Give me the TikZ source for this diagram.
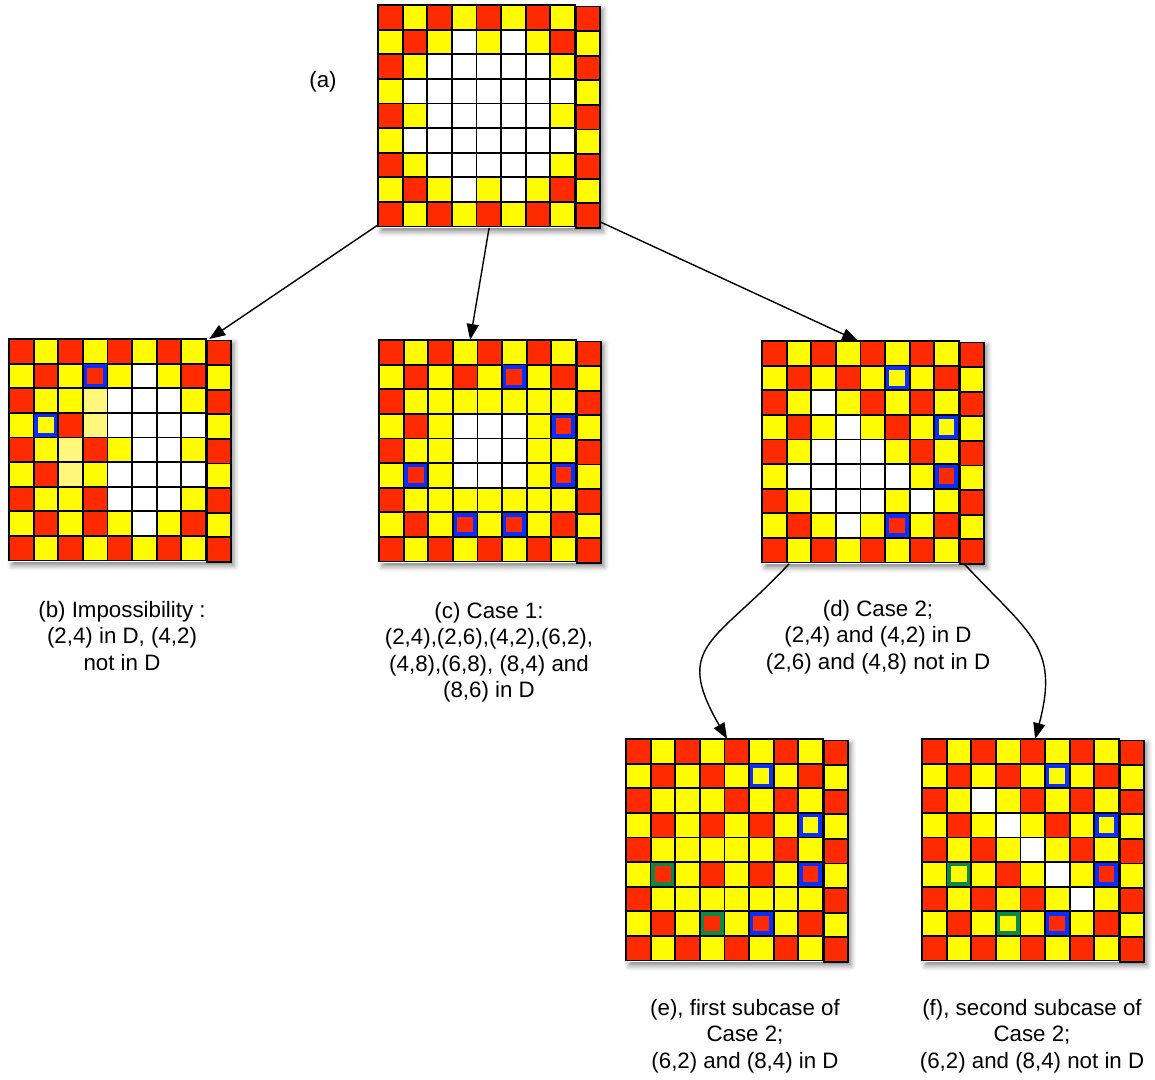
\documentclass[tikz,border=0pt]{standalone}
\usepackage{fontspec}
\setmainfont{Liberation Sans}
\usepackage{tikz}
\usetikzlibrary{arrows.meta}
\usetikzlibrary{shadows.blur}
\usetikzlibrary{calc}
\definecolor{cellR}{HTML}{FF2A00}
\definecolor{cellY}{HTML}{FFFB00}
\definecolor{cellW}{HTML}{FFFFFF}
\definecolor{cellL}{HTML}{FFF87C}
\definecolor{hlblue}{HTML}{0A2EFF}
\definecolor{hlgreen}{HTML}{0B8A45}
\newcommand*{\sz}{24.6}
\tikzstyle{boardbg}=[rectangle,anchor=north west,inner sep=0pt,outer sep=0pt,minimum width=222.2pt,minimum height=222.9pt,fill=white,blur shadow={shadow xshift=3pt,shadow yshift=-4pt,shadow blur radius=5pt,shadow opacity=45}]
\tikzstyle{cell}=[draw=black,line width=1.8pt]
\tikzstyle{arr}=[-{Triangle[length=16pt,width=12pt]},draw=black,line width=1.4pt]
\tikzset{caption/.style={align=center,font=\fontsize{22.3}{26.5}\selectfont,inner sep=0pt}}
\newcommand*{\board}[4]{
    \begin{scope}[shift={(#2,-#3)}]
    \node [boardbg] (#1) at (0,0) {};
    \foreach \row [count=\j] in {#4} {
      \foreach \c [count=\i] in \row {
        \pgfmathsetmacro{\dx}{(\i==9)*0.8}
        \pgfmathsetmacro{\dy}{(\i==9)*1.5}
        \draw [cell, fill=cell\c] ({(\i-1)*\sz+\dx},{-(\j-1)*\sz-\dy}) rectangle ++(\sz,-\sz);
      }
    }
    \end{scope}
}
\newcommand*{\hilite}[4]{
    \draw [#4, line width=3.6pt] ($(#1.north west)+({(#2-1)*\sz+2.6},{-(#3-1)*\sz-2.6})$) rectangle ++({\sz-5.2},{-\sz+5.2});
}

\begin{document}
\begin{tikzpicture}[x=1pt,y=1pt]
    \useasboundingbox (0,0) rectangle (1155,-1079);

    % starting position
    \board{A}{378}{5}{{R,Y,R,Y,R,Y,R,Y,R},{Y,R,Y,W,Y,W,Y,R,Y},{R,Y,W,W,W,W,W,Y,R},{Y,W,W,W,W,W,W,W,Y},{R,Y,W,W,W,W,W,Y,R},{Y,W,W,W,W,W,W,W,Y},{R,Y,W,W,W,W,W,Y,R},{Y,R,Y,W,Y,W,Y,R,Y},{R,Y,R,Y,R,Y,R,Y,R}}

    % impossibility
    \board{B}{9}{339}{{R,Y,R,Y,R,Y,R,Y,R},{Y,R,Y,R,Y,W,Y,R,Y},{R,Y,Y,L,W,W,W,Y,R},{Y,Y,R,L,W,W,W,W,Y},{R,Y,L,R,Y,W,W,Y,R},{Y,R,L,Y,W,W,W,W,Y},{R,Y,Y,R,W,W,W,Y,R},{Y,R,Y,R,Y,W,Y,R,Y},{R,Y,R,Y,R,Y,R,Y,R}}
    \hilite{B}{4}{2}{hlblue}
    \hilite{B}{2}{4}{hlblue}

    % case 1
    \board{C}{379}{340}{{R,Y,R,Y,R,Y,R,Y,R},{Y,R,Y,R,Y,R,Y,R,Y},{R,Y,Y,Y,Y,Y,Y,Y,R},{Y,R,Y,W,W,W,Y,R,Y},{R,Y,Y,W,W,W,Y,Y,R},{Y,R,Y,W,W,W,Y,R,Y},{R,Y,Y,Y,Y,Y,Y,Y,R},{Y,R,Y,R,Y,R,Y,R,Y},{R,Y,R,Y,R,Y,R,Y,R}}
    \foreach \p/\q in {6/2,8/4,2/6,8/6,4/8,6/8} {\hilite{C}{\p}{\q}{hlblue}}

    % case 2
    \board{D}{762}{341}{{R,Y,R,Y,R,Y,R,Y,R},{Y,R,Y,R,Y,Y,Y,R,Y},{R,Y,W,Y,R,Y,R,Y,R},{Y,R,Y,W,Y,R,Y,Y,Y},{R,Y,W,W,W,Y,R,Y,R},{Y,W,W,W,W,W,Y,R,Y},{R,Y,W,W,W,Y,W,Y,R},{Y,R,Y,W,Y,R,Y,R,Y},{R,Y,R,Y,R,Y,R,Y,R}}
    \foreach \p/\q in {6/2,8/4,8/6,6/8} {\hilite{D}{\p}{\q}{hlblue}}

    % subcases
    \board{E}{626}{739}{{R,Y,R,Y,R,Y,R,Y,R},{Y,R,Y,R,Y,Y,Y,R,Y},{R,Y,Y,Y,R,Y,R,Y,R},{Y,R,Y,R,Y,R,Y,Y,Y},{R,Y,Y,Y,Y,Y,R,Y,R},{Y,R,Y,R,Y,R,Y,R,Y},{R,Y,Y,Y,Y,Y,Y,Y,R},{Y,R,Y,R,Y,R,Y,R,Y},{R,Y,R,Y,R,Y,R,Y,R}}
    \foreach \p/\q in {6/2,8/4,8/6,6/8} {\hilite{E}{\p}{\q}{hlblue}}
    \foreach \p/\q in {2/6,4/8} {\hilite{E}{\p}{\q}{hlgreen}}

    \board{F}{922}{739}{{R,Y,R,Y,R,Y,R,Y,R},{Y,R,Y,R,Y,Y,Y,R,Y},{R,Y,W,Y,R,Y,R,Y,R},{Y,R,Y,W,Y,R,Y,Y,Y},{R,Y,R,Y,W,Y,R,Y,R},{Y,Y,Y,R,Y,W,Y,R,Y},{R,Y,R,Y,R,Y,W,Y,R},{Y,R,Y,Y,Y,R,Y,R,Y},{R,Y,R,Y,R,Y,R,Y,R}}
    \foreach \p/\q in {6/2,8/4,8/6,6/8} {\hilite{F}{\p}{\q}{hlblue}}
    \foreach \p/\q in {2/6,4/8} {\hilite{F}{\p}{\q}{hlgreen}}

    % captions
    \node [caption] (capA) at (323,-82) {(a)};
    \node [caption] (capB) at (122,-636) {(b) Impossibility :\\(2,4) in D, (4,2)\\not in D};
    \node [caption] (capC) at (489,-652) {(c) Case 1:\\(2,4),(2,6),(4,2),(6,2),\\(4,8),(6,8), (8,4) and\\(8,6) in D};
    \node [caption] (capD) at (878,-637) {(d) Case 2;\\(2,4) and (4,2) in D\\(2,6) and (4,8) not in D};
    \node [caption] (capE) at (745,-1036) {(e), first subcase of\\Case 2;\\(6,2) and (8,4) in D};
    \node [caption] (capF) at (1032,-1036) {(f), second subcase of\\Case 2;\\(6,2) and (8,4) not in D};

    % arrows
    \draw [arr] ([yshift=3pt]A.south west) -- ([xshift=-22pt]B.north east);
    \draw [arr] (A.south) -- ([xshift=-20pt]C.north);
    \draw [arr] ([yshift=6pt]A.south east) -- ([xshift=-15pt]D.north);
    \draw [arr] ([xshift=27pt]D.south west) to[out=-133,in=120,looseness=1.5] ([xshift=-10pt]E.north);
    \draw [arr] ([xshift=-20pt]D.south east) to[out=-47,in=75,looseness=1.3] ([xshift=2pt]F.north);
\end{tikzpicture}
\end{document}
